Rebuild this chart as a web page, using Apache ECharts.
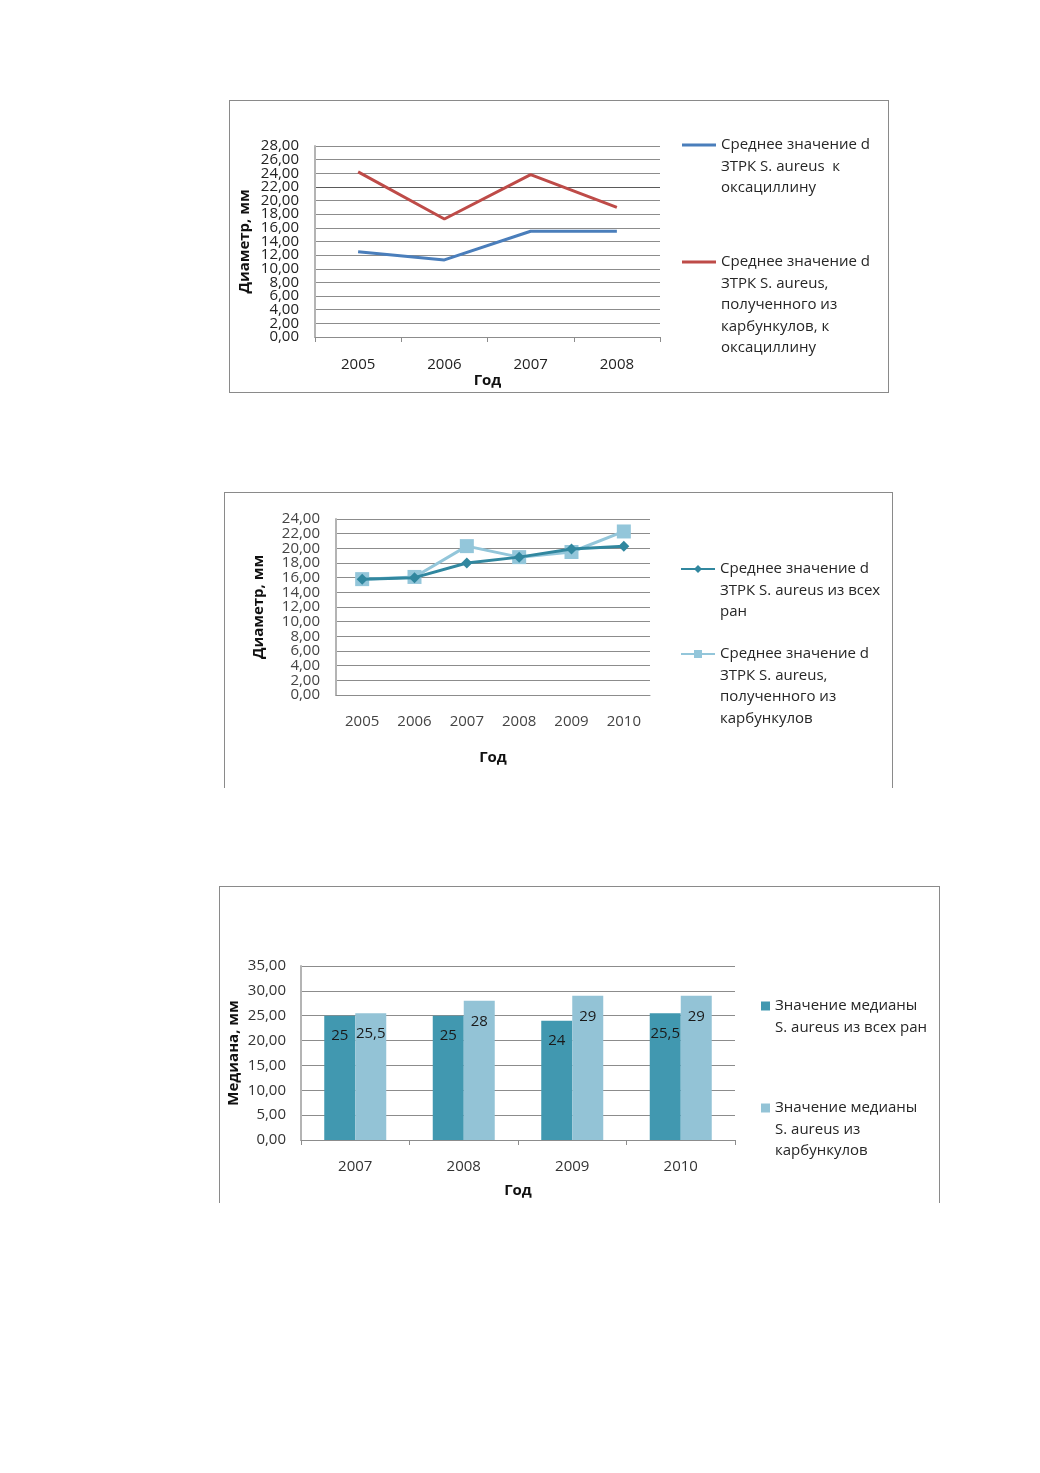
<!DOCTYPE html>
<html>
<head>
<meta charset="utf-8">
<script src="https://cdn.jsdelivr.net/npm/echarts@6/dist/echarts.min.js"></script>
<style>
  html, body { margin: 0; padding: 0; background: #ffffff; }
  body { width: 1040px; height: 1473px; position: relative; overflow: hidden; }
  .box { position: absolute; box-sizing: border-box; }
  #c1 { left: 229px; top: 100px; width: 660px; height: 293px; border: 1px solid #8a8a8a; }
  #c2 { left: 224px; top: 492px; width: 669px; height: 296px; border: 1px solid #8a8a8a; border-bottom: none; }
  #c3 { left: 219px; top: 886px; width: 721px; height: 317px; border: 1px solid #8a8a8a; border-bottom: none; }
  .chart { position: absolute; left: 0; top: 0; right: 0; bottom: 0; }
</style>
</head>
<body>
<div class="box" id="c1"><div class="chart" id="ch1"></div></div>
<div class="box" id="c2"><div class="chart" id="ch2"></div></div>
<div class="box" id="c3"><div class="chart" id="ch3"></div></div>
<script>
// ---------- Chart 1 data ----------
const years1 = ['2005', '2006', '2007', '2008'];
const oxaAll = [12.5, 11.3, 15.5, 15.5];
const oxaCarb = [24.2, 17.3, 23.8, 19.0];
const yTicks1 = [0, 2, 4, 6, 8, 10, 12, 14, 16, 18, 20, 22, 24, 26, 28];
const legend1a = ['Среднее значение d', 'ЗТРК S. aureus  к', 'оксациллину'];
const legend1b = ['Среднее значение d', 'ЗТРК S. aureus,', 'полученного из', 'карбункулов, к', 'оксациллину'];

// ---------- Chart 2 data ----------
const years2 = ['2005', '2006', '2007', '2008', '2009', '2010'];
const meanAll = [15.8, 16.0, 18.0, 18.8, 19.9, 20.3];
const meanCarb = [15.8, 16.1, 20.3, 18.8, 19.5, 22.3];
const yTicks2 = [0, 2, 4, 6, 8, 10, 12, 14, 16, 18, 20, 22, 24];
const legend2a = ['Среднее значение d', 'ЗТРК S. aureus из всех', 'ран'];
const legend2b = ['Среднее значение d', 'ЗТРК S. aureus,', 'полученного из', 'карбункулов'];

// ---------- Chart 3 data ----------
const years3 = ['2007', '2008', '2009', '2010'];
const medianAll = [25, 25, 24, 25.5];
const medianCarb = [25.5, 28, 29, 29];
const yTicks3 = [0, 5, 10, 15, 20, 25, 30, 35];
const legend3a = ['Значение медианы', 'S. aureus из всех ран'];
const legend3b = ['Значение медианы', 'S. aureus из', 'карбункулов'];

const axisTitleY = 'Диаметр, мм';
const axisTitleY3 = 'Медиана, мм';
const axisTitleX = 'Год';

const FONT = '"Open Sans", "Noto Sans", sans-serif';
const LH = 21.5;

function comma2(v) { return Number(v).toFixed(2).replace('.', ','); }
function commaN(v) { return String(v).replace('.', ','); }

// legend item whose icon sits on the first text line
function legendItem(lines, left, firstLineY, extra) {
  const n = lines.length;
  const H = (2 * n - 1) * LH;
  const name = lines.join(' ');
  const text = new Array(n).join('\n') + lines.join('\n');
  return Object.assign({
    data: [name],
    orient: 'vertical',
    left: left,
    top: firstLineY - H / 2,
    padding: 0,
    formatter: () => text,
    textStyle: { fontFamily: FONT, fontSize: 15, color: '#262626', lineHeight: LH },
    selectedMode: false
  }, extra || {});
}

function yLabel(color, ticks, margin) {
  return { fontFamily: FONT, fontSize: 15, color: color, margin: margin, formatter: comma2,
    customValues: ticks, showMinLabel: true, showMaxLabel: true, hideOverlap: false,
    lineHeight: 12, padding: 0 };
}
function nameStyle() {
  return { fontFamily: FONT, fontSize: 15, fontWeight: 'bold', color: '#111' };
}
// dense tick label sets are split over two coincident axes (even / odd ticks)
function evenTicks(t) { return t.filter((_, i) => i % 2 === 0); }
function oddTicks(t) { return t.filter((_, i) => i % 2 === 1); }
function labelOnlyAxis(min, max, interval, color, ticks, margin) {
  return {
    type: 'value', position: 'left', offset: 0,
    min: min, max: max, interval: interval,
    axisLine: { show: false }, axisTick: { show: false }, splitLine: { show: false },
    axisLabel: yLabel(color, ticks, margin)
  };
}

// ---------- Chart 1 ----------
(function () {
  const chart = echarts.init(document.getElementById('ch1'), null, { renderer: 'canvas' });
  const splitColors = [];
  for (let i = 0; i <= 14; i++) splitColors.push(i === 11 ? '#5a5a5a' : '#8c8c8c');
  chart.setOption({
    animation: false,
    textStyle: { fontFamily: FONT },
    grid: { left: 85, top: 45, width: 345, height: 191, containLabel: false, outerBoundsMode: 'none' },
    legend: [
      legendItem(legend1a, 452, 44, { itemWidth: 34, itemHeight: 3, icon: 'rect' }),
      legendItem(legend1b, 452, 161, { itemWidth: 34, itemHeight: 3, icon: 'rect' })
    ],
    xAxis: {
      type: 'category',
      data: years1,
      boundaryGap: true,
      axisLine: { lineStyle: { color: '#8c8c8c', width: 1 } },
      axisTick: { show: true, length: 5, lineStyle: { color: '#8c8c8c' } },
      axisLabel: { fontFamily: FONT, fontSize: 15, color: '#222', margin: 20 },
      name: axisTitleX,
      nameLocation: 'middle',
      nameGap: 36,
      nameMoveOverlap: false,
      nameTextStyle: nameStyle()
    },
    yAxis: [
      {
        type: 'value', position: 'left',
        min: 0, max: 28, interval: 2,
        axisLine: { show: true, lineStyle: { color: '#b4b4b4', width: 2 } },
        axisTick: { show: false },
        splitLine: { lineStyle: { color: splitColors, width: 1 } },
        axisLabel: yLabel('#222', evenTicks(yTicks1), 16),
        name: axisTitleY,
        nameLocation: 'middle',
        nameGap: 63,
        nameMoveOverlap: false,
        nameTextStyle: nameStyle()
      },
      labelOnlyAxis(0, 28, 2, '#222', oddTicks(yTicks1), 16)
    ],
    series: [
      { name: legend1a.join(' '), type: 'line', data: oxaAll, symbol: 'none',
        lineStyle: { color: '#4a7ebb', width: 3 }, itemStyle: { color: '#4a7ebb' } },
      { name: legend1b.join(' '), type: 'line', data: oxaCarb, symbol: 'none',
        lineStyle: { color: '#be4b48', width: 3 }, itemStyle: { color: '#be4b48' } }
    ]
  });
})();

// ---------- Chart 2 ----------
(function () {
  const chart = echarts.init(document.getElementById('ch2'), null, { renderer: 'canvas' });
  chart.setOption({
    animation: false,
    textStyle: { fontFamily: FONT },
    grid: { left: 111, top: 26, width: 314, height: 176, containLabel: false, outerBoundsMode: 'none' },
    legend: [
      legendItem(legend2a, 455, 76, { itemWidth: 34, itemHeight: 10 }),
      legendItem(legend2b, 455, 161, { itemWidth: 34, itemHeight: 10 })
    ],
    xAxis: {
      type: 'category',
      data: years2,
      boundaryGap: true,
      axisLine: { lineStyle: { color: '#8c8c8c', width: 1 } },
      axisTick: { show: false },
      axisLabel: { fontFamily: FONT, fontSize: 15, color: '#444', margin: 19 },
      name: axisTitleX,
      nameLocation: 'middle',
      nameGap: 55,
      nameMoveOverlap: false,
      nameTextStyle: nameStyle()
    },
    yAxis: [
      {
        type: 'value', position: 'left',
        min: 0, max: 24, interval: 2,
        axisLine: { show: true, lineStyle: { color: '#b4b4b4', width: 2 } },
        axisTick: { show: false },
        splitLine: { lineStyle: { color: '#8c8c8c', width: 1 } },
        axisLabel: yLabel('#444', evenTicks(yTicks2), 16),
        name: axisTitleY,
        nameLocation: 'middle',
        nameGap: 70,
        nameMoveOverlap: false,
        nameTextStyle: nameStyle()
      },
      labelOnlyAxis(0, 24, 2, '#444', oddTicks(yTicks2), 16)
    ],
    series: [
      { name: legend2a.join(' '), type: 'line', data: meanAll, z: 4,
        symbol: 'diamond', symbolSize: 11, showSymbol: true,
        lineStyle: { color: '#31879f', width: 3 }, itemStyle: { color: '#31879f' } },
      { name: legend2b.join(' '), type: 'line', data: meanCarb, z: 3,
        symbol: 'rect', symbolSize: 14, showSymbol: true,
        lineStyle: { color: '#93c6da', width: 3 }, itemStyle: { color: '#93c6da' } }
    ]
  });
})();

// ---------- Chart 3 ----------
(function () {
  const chart = echarts.init(document.getElementById('ch3'), null, { renderer: 'canvas' });
  const labelCfg = {
    show: true, position: 'insideTop', distance: 13,
    fontFamily: FONT, fontSize: 15, color: '#1a1a1a',
    formatter: p => commaN(p.value)
  };
  chart.setOption({
    animation: false,
    textStyle: { fontFamily: FONT },
    grid: { left: 81, top: 79, width: 434, height: 174, containLabel: false, outerBoundsMode: 'none' },
    legend: [
      legendItem(legend3a, 541, 119, { itemWidth: 9, itemHeight: 9, icon: 'rect' }),
      legendItem(legend3b, 541, 221, { itemWidth: 9, itemHeight: 9, icon: 'rect' })
    ],
    xAxis: {
      type: 'category',
      data: years3,
      boundaryGap: true,
      axisLine: { lineStyle: { color: '#8c8c8c', width: 1 } },
      axisTick: { show: true, length: 5, lineStyle: { color: '#8c8c8c' } },
      axisLabel: { fontFamily: FONT, fontSize: 15, color: '#333', margin: 19 },
      name: axisTitleX,
      nameLocation: 'middle',
      nameGap: 43,
      nameMoveOverlap: false,
      nameTextStyle: nameStyle()
    },
    yAxis: {
      type: 'value',
      min: 0, max: 35, interval: 5,
      axisLine: { show: true, lineStyle: { color: '#b4b4b4', width: 2 } },
      axisTick: { show: false },
      splitLine: { lineStyle: { color: '#8c8c8c', width: 1 } },
      axisLabel: yLabel('#333', yTicks3, 15),
      name: axisTitleY3,
      nameLocation: 'middle',
      nameGap: 60,
      nameMoveOverlap: false,
      nameTextStyle: nameStyle()
    },
    series: [
      { name: legend3a.join(' '), type: 'bar', data: medianAll, barWidth: 31, barGap: '0%',
        itemStyle: { color: '#4198b0' }, label: labelCfg },
      { name: legend3b.join(' '), type: 'bar', data: medianCarb, barWidth: 31, barGap: '0%',
        itemStyle: { color: '#93c3d6' }, label: labelCfg }
    ]
  });
})();
</script>
</body>
</html>
